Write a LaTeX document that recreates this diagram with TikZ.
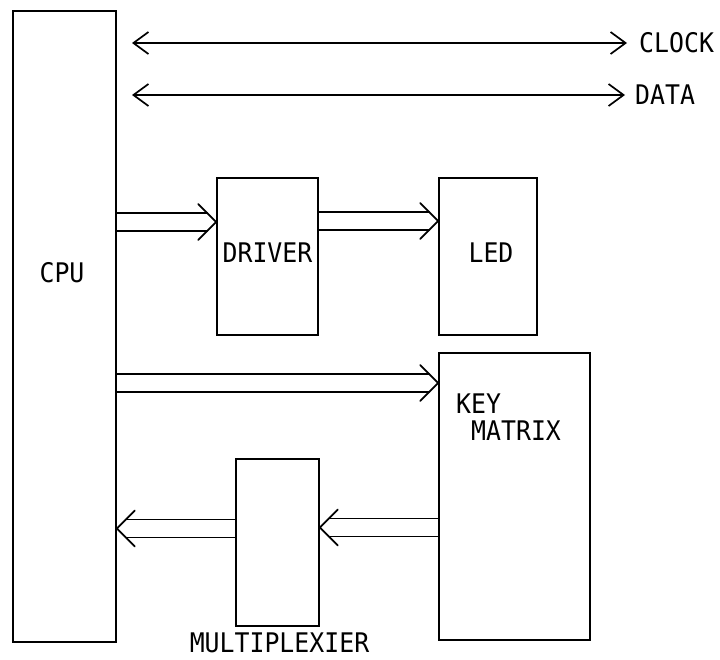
\documentclass[tikz,border=0pt]{standalone}
\usepackage{fontspec}
\newfontfamily\lblfont[FakeStretch=0.92]{DejaVu Sans Mono}
\usetikzlibrary{calc,arrows.meta}
\tikzset{
  blk/.style={draw, line width=1.7pt, minimum width=#1, inner sep=0pt},
  lbl/.style={font=\lblfont\fontsize{27}{29}\selectfont, inner sep=0pt},
  bus/.style={line width=1.7pt, line cap=round, line join=round},
  sig/.style={line width=1.7pt, {Straight Barb[length=15pt,width=22pt]}-{Straight Barb[length=15pt,width=22pt]}},
}
\newcommand\busarrow[3]{%
  \draw[bus] ($(#1)+(0,-9)$) -- ($(#2)+(-9*#3,-9)$);
  \draw[bus] ($(#1)+(0,9)$) -- ($(#2)+(-9*#3,9)$);
  \draw[bus] ($(#2)+(-18*#3,-18)$) -- (#2) -- ($(#2)+(-18*#3,18)$);}
\begin{document}
\begin{tikzpicture}[x=1pt,y=-1pt]
\useasboundingbox[fill=white] (0,0) rectangle (720,659);
% boxes
\node[blk=103pt, minimum height=631pt] (cpu) at (64.5,326.5) {};
\node[blk=101pt, minimum height=157pt] (drv) at (267.5,256.5) {};
\node[blk=98pt, minimum height=157pt] (led) at (488,256.5) {};
\node[blk=151pt, minimum height=287pt] (key) at (514.5,496.5) {};
\node[blk=83pt, minimum height=167pt] (mux) at (277.5,542.5) {};
% labels
\node[lbl] (cputxt) at (62,273) {CPU};
\node[lbl] (drvtxt) at (267.5,253) {DRIVER};
\node[lbl] (ledtxt) at (491,253) {LED};
\node[lbl, anchor=west] (keytxt) at (456,404) {KEY};
\node[lbl, anchor=west] (mattxt) at (471,431) {MATRIX};
\node[lbl] (muxtxt) at (279.5,643) {MULTIPLEXIER};
\node[lbl, anchor=west, inner xsep=12pt] (clk) at (627,43) {CLOCK};
\node[lbl, anchor=west, inner xsep=10pt] (dat) at (625,95) {DATA};
% clock / data lines
\coordinate (c1) at (132,43);
\coordinate (d1) at (132,95);
\draw[sig] (c1) -- (clk.west);
\draw[sig] (d1) -- (dat.west);
% bus arrows
\coordinate (a1) at (cpu.east |- 0,222);
\coordinate (a2) at (drv.west |- 0,222);
\busarrow{a1}{a2}{1}
\coordinate (b1) at (drv.east |- 0,221);
\coordinate (b2) at (led.west |- 0,221);
\busarrow{b1}{b2}{1}
\coordinate (k1) at (cpu.east |- 0,383);
\coordinate (k2) at (key.west |- 0,383);
\busarrow{k1}{k2}{1}
\coordinate (m1) at (key.west |- 0,527.5);
\coordinate (m2) at (mux.east |- 0,527.5);
\busarrow{m1}{m2}{-1}
\coordinate (p1) at (mux.west |- 0,528.5);
\coordinate (p2) at (cpu.east |- 0,528.5);
\busarrow{p1}{p2}{-1}
\end{tikzpicture}
\end{document}
